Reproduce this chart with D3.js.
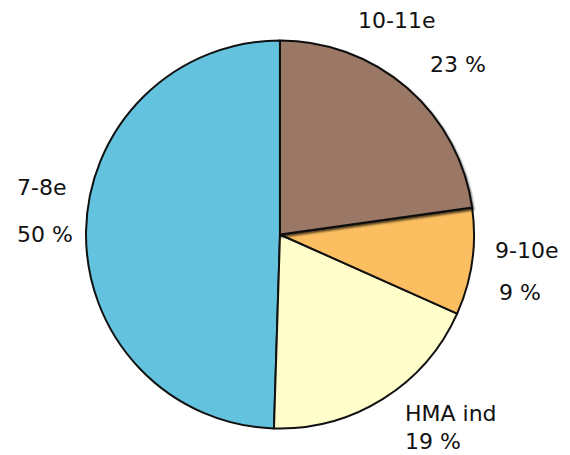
<!DOCTYPE html>
<html>
<head>
<meta charset="utf-8">
<script src="https://cdn.jsdelivr.net/npm/d3@7"></script>
<style>
  html, body { margin: 0; padding: 0; background: #fff; }
  text { font-family: "DejaVu Sans", Verdana, sans-serif; font-size: 22px; fill: #111; }
</style>
</head>
<body>
<svg id="chart" width="570" height="455"></svg>
<script>
// Share of pupils per grade group
const categories = ["10-11e", "9-10e", "HMA ind", "7-8e"];
const shares = [23, 9, 19, 50];
const sliceColors = ["#9B7866", "#FBBF61", "#FFFDC9", "#63C3DF"];

// Label anchors (name line, percent line) per slice
const labelPos = [
  { name: [358, 28], pct: [430, 72] },
  { name: [495, 258], pct: [499, 300] },
  { name: [405, 421], pct: [405, 449] },
  { name: [17, 195], pct: [17, 242] }
];

const svg = d3.select("#chart");
const cx = 280, cy = 234.5, r = 194;

const defs = svg.append("defs");
const shadow = defs.append("filter").attr("id", "shade")
  .attr("x", "-10%").attr("y", "-10%").attr("width", "130%").attr("height", "130%");
shadow.append("feDropShadow").attr("dx", 1).attr("dy", 2)
  .attr("stdDeviation", 1.2).attr("flood-color", "#000").attr("flood-opacity", 0.7);

const pie = d3.pie().sort(null).value(d => d);
const arcs = pie(shares);
const arc = d3.arc().innerRadius(0).outerRadius(r);

const g = svg.append("g").attr("transform", `translate(${cx},${cy})`);

// draw the large slices first, the top-right slice last with its shadow
const order = [3, 2, 1, 0];
g.selectAll("path")
  .data(order.map(i => ({ a: arcs[i], i })))
  .join("path")
  .attr("d", d => arc(d.a))
  .attr("fill", d => sliceColors[d.i])
  .attr("stroke", "#111")
  .attr("stroke-width", 2)
  .attr("stroke-linejoin", "round")
  .attr("filter", d => d.i === 0 ? "url(#shade)" : null);

const labels = svg.append("g");
categories.forEach((c, i) => {
  labels.append("text").attr("x", labelPos[i].name[0]).attr("y", labelPos[i].name[1]).text(c);
  labels.append("text").attr("x", labelPos[i].pct[0]).attr("y", labelPos[i].pct[1]).text(shares[i] + " %");
});
</script>
</body>
</html>
